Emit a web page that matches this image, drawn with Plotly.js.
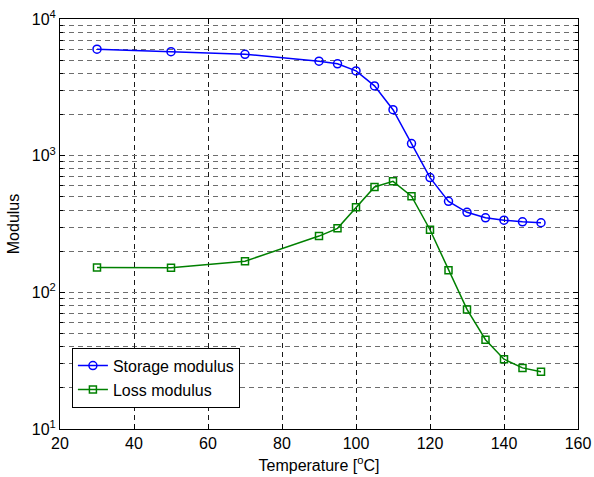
<!DOCTYPE html>
<html>
<head>
<meta charset="utf-8">
<script src="https://cdn.plot.ly/plotly-3.0.1.min.js"></script>
<style>html,body{margin:0;padding:0;background:#fff;}#chart{width:594px;height:477px;}</style>
</head>
<body>
<div id="chart"></div>
<script>
var temperature = [30, 50, 70, 90, 95, 100, 105, 110, 115, 120, 125, 130, 135, 140, 145, 150];
var storageModulus = [6010, 5770, 5520, 4910, 4700, 4170, 3240, 2170, 1225, 691, 463, 385, 351, 337, 328, 323];
var lossModulus = [152, 151, 169, 258, 294, 420, 590, 649, 505, 287, 145, 75, 45, 32.4, 28, 26.2];
var xTickVals = [20, 40, 60, 80, 100, 120, 140, 160];
var yTickVals = [10, 100, 1000, 10000];
var yTickText = ["10<sup>1</sup>", "10<sup>2</sup>", "10<sup>3</sup>", "10<sup>4</sup>"];
var yMinorVals = [];
[10, 100, 1000].forEach(function (d) { for (var k = 2; k <= 9; k++) yMinorVals.push(k * d); });

var font = "Liberation Sans, Arial, Helvetica, sans-serif";

var traces = [
  {
    x: temperature, y: storageModulus, name: "Storage modulus",
    type: "scatter", mode: "lines+markers",
    line: {color: "#0000ff", width: 1.5},
    marker: {symbol: "circle-open", size: 8, color: "#0000ff", line: {width: 1.5, color: "#0000ff"}}
  },
  {
    x: temperature, y: lossModulus, name: "Loss modulus",
    type: "scatter", mode: "lines+markers",
    line: {color: "#008000", width: 1.5},
    marker: {symbol: "square-open", size: 7, color: "#008000", line: {width: 1.5, color: "#008000"}}
  }
];

var layout = {
  width: 594, height: 477,
  margin: {l: 60, r: 16, t: 19, b: 48, pad: 0},
  paper_bgcolor: "#ffffff", plot_bgcolor: "#ffffff",
  font: {family: font, size: 16, color: "#000"},
  showlegend: true,
  legend: {
    x: 0.023, y: 0.052, xanchor: "left", yanchor: "bottom",
    bgcolor: "#ffffff", bordercolor: "#000", borderwidth: 1,
    font: {family: font, size: 16, color: "#000"},
    tracegroupgap: 0, itemwidth: 30
  },
  xaxis: {
    range: [20, 160], tickmode: "array", tickvals: xTickVals,
    ticks: "inside", ticklen: 5, tickcolor: "#000", tickwidth: 1,
    showline: true, linecolor: "#000", linewidth: 1, mirror: "allticks",
    showgrid: true, gridcolor: "#1a1a1a", griddash: "5px,4px", gridwidth: 1,
    zeroline: false,
    tickfont: {family: font, size: 16, color: "#000"},
    title: {text: "Temperature [<sup>o</sup>C]", font: {family: font, size: 16, color: "#000"}, standoff: 8}
  },
  yaxis: {
    type: "log", range: [1, 4], tickmode: "array", tickvals: yTickVals, ticktext: yTickText,
    ticks: "inside", ticklen: 5, tickcolor: "#000", tickwidth: 1,
    showline: true, linecolor: "#000", linewidth: 1, mirror: "allticks",
    showgrid: true, gridcolor: "#6e6e6e", griddash: "5px,4px", gridwidth: 1,
    minor: {
      tickmode: "array", tickvals: yMinorVals, ticks: "inside", ticklen: 3, tickcolor: "#000",
      showgrid: true, gridcolor: "#6e6e6e", griddash: "5px,4px", gridwidth: 1
    },
    zeroline: false,
    tickfont: {family: font, size: 16, color: "#000"},
    title: {text: "Modulus", font: {family: font, size: 16, color: "#000"}, standoff: 8}
  }
};

Plotly.newPlot("chart", traces, layout, {displayModeBar: false, staticPlot: true});
</script>
</body>
</html>
